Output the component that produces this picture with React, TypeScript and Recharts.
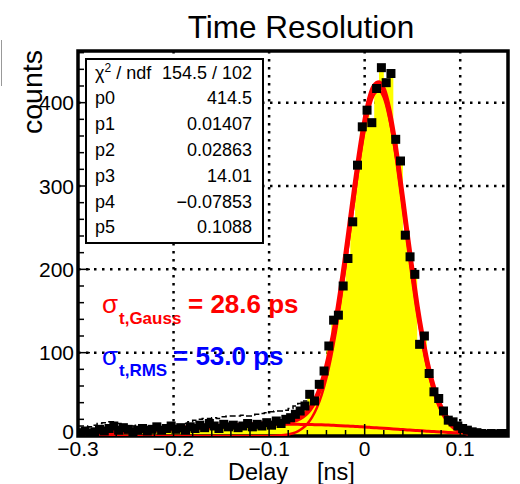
import React from "react";
import {
  Area,
  CartesianGrid,
  ComposedChart,
  Line,
  ReferenceArea,
  Scatter,
  XAxis,
  YAxis,
} from "recharts";

// histogram: 90 bins of 0.005 ns starting at -0.3 ns
const BIN_LOW = -0.3;
const BIN_W = 0.005;
const COUNTS = [
  4, 6, 3, 5, 8, 6, 9, 12, 7, 10, 8, 5, 7, 9, 6, 8, 11, 7, 9, 12, 8, 10, 7, 11,
  9, 13, 10, 15, 12, 9, 14, 11, 13, 10, 12, 15, 11, 14, 12, 16, 13, 18, 15, 20,
  22, 26, 30, 36,
  50, 42, 62, 78, 108, 139, 145, 180, 213, 257, 325, 371, 391, 376, 417, 442,
  424, 435, 356, 330, 241, 215, 194, 110, 120, 75, 53, 45, 30, 19, 17, 12, 9, 7,
  5, 4, 3, 2, 3, 2, 3, 3,
];
// black outline of the low-side tail (first 48 bins)
const TAIL_OUTLINE = [
  12, 12, 11, 13, 15, 16, 17, 17, 15, 13, 12, 12, 13, 12, 11, 12, 13, 12, 13, 14,
  13, 13, 15, 17, 19, 20, 21, 21, 22, 21, 23, 24, 24, 24, 25, 24, 24, 26, 27, 28,
  29, 30, 30, 31, 33, 36, 39, 42,
];

// fit curves
const FIT_X = [
  -0.3, -0.28, -0.26, -0.24, -0.22, -0.2, -0.18, -0.16, -0.14, -0.12, -0.1,
  -0.09, -0.08, -0.075, -0.07, -0.065, -0.06, -0.055, -0.05, -0.045, -0.04,
  -0.035, -0.03, -0.025, -0.02, -0.015, -0.01, -0.005, 0, 0.005, 0.01, 0.015,
  0.02, 0.025, 0.03, 0.035, 0.04, 0.045, 0.05, 0.055, 0.06, 0.065, 0.07, 0.075,
  0.08, 0.085, 0.09, 0.095, 0.1, 0.11, 0.12, 0.13, 0.14, 0.15,
];
const FIT_TOTAL = [
  4.5, 5.3, 6.1, 7.0, 8.0, 9.0, 10.1, 11.2, 12.4, 13.6, 14.9, 15.8, 17.2, 18.4,
  20.4, 23.6, 28.6, 36.3, 47.4, 62.8, 82.8, 108.3, 138.7, 175.4, 216.1, 259.3,
  302.5, 343.1, 377.8, 404.4, 420, 424, 415.3, 393.9, 363.5, 325.5, 282.7, 238.3,
  195.9, 155.6, 121.2, 91, 67.1, 48.2, 34.1, 23.8, 16.4, 11.5, 8.2, 4.5, 2.9, 2.1,
  1.6, 1.3,
];
const FIT_GAUSS = [
  0, 0, 0, 0, 0, 0, 0, 0, 0, 0, 0.15, 0.56, 1.9, 3.3, 5.6, 9.2, 14.6, 22.6, 33.9,
  49.4, 69.6, 95.4, 126, 163, 204, 247.5, 291, 332, 367, 394, 410, 414.3, 406,
  385, 355, 317.4, 275, 231, 189, 149, 115, 85.2, 61.6, 43.1, 29.3, 19.3, 12.3,
  7.6, 4.6, 1.5, 0.44, 0.1, 0.03, 0,
];
const FIT_BKG = [
  1.8, 2.5, 3.5, 4.7, 6.0, 7.5, 9.1, 10.6, 11.9, 13.0, 13.7, 13.9, 14.0, 14.0,
  14.0, 13.9, 13.8, 13.7, 13.5, 13.4, 13.2, 12.9, 12.7, 12.4, 12.1, 11.8, 11.5,
  11.1, 10.8, 10.4, 10.0, 9.7, 9.3, 8.9, 8.5, 8.1, 7.7, 7.3, 6.9, 6.6, 6.2, 5.8,
  5.5, 5.1, 4.8, 4.5, 4.1, 3.9, 3.6,
];

const X_MAJOR = [-0.3, -0.2, -0.1, 0, 0.1];
const X_MINOR = [
  -0.28, -0.26, -0.24, -0.22, -0.18, -0.16, -0.14, -0.12, -0.08, -0.06, -0.04,
  -0.02, 0.02, 0.04, 0.06, 0.08, 0.12, 0.14,
];
const Y_MAJOR = [0, 100, 200, 300, 400];
const Y_MINOR = [
  20, 40, 60, 80, 120, 140, 160, 180, 220, 240, 260, 280, 320, 340, 360, 380,
  420, 440, 460,
];

const STATS = [
  ["p0", "414.5"],
  ["p1", "0.01407"],
  ["p2", "0.02863"],
  ["p3", "14.01"],
  ["p4", "\u22120.07853"],
  ["p5", "0.1088"],
];

const W = 520;
const H = 484;
const LEFT = 78;
const TOP = 51;
const RIGHT = 508;
const BOTTOM = 436;
const X_DOMAIN: [number, number] = [-0.3, 0.15];
const Y_DOMAIN: [number, number] = [0, 462];
const FONT = "'Liberation Sans', Arial, Helvetica, sans-serif";

// pixel position of grid lines (same linear mapping as the axes)
const gridX = (v: number) => LEFT + ((v - X_DOMAIN[0]) / (X_DOMAIN[1] - X_DOMAIN[0])) * (RIGHT - LEFT);
const gridY = (v: number) => BOTTOM - ((v - Y_DOMAIN[0]) / (Y_DOMAIN[1] - Y_DOMAIN[0])) * (BOTTOM - TOP);

const histRows = COUNTS.map((c, i) => ({ x: BIN_LOW + i * BIN_W, y: c }));
histRows.push({ x: BIN_LOW + COUNTS.length * BIN_W, y: COUNTS[COUNTS.length - 1] });
const markerRows = COUNTS.map((c, i) => ({ x: BIN_LOW + (i + 0.5) * BIN_W, y: c }));
const outlineRows = TAIL_OUTLINE.map((c, i) => ({ x: BIN_LOW + i * BIN_W, y: c }));
outlineRows.push({
  x: BIN_LOW + TAIL_OUTLINE.length * BIN_W,
  y: TAIL_OUTLINE[TAIL_OUTLINE.length - 1],
});
const totalRows = FIT_X.map((x, i) => ({ x, y: FIT_TOTAL[i] }));
const gaussRows = FIT_X.map((x, i) => ({ x, y: FIT_GAUSS[i] }));
const bkgRows = FIT_BKG.map((y, i) => ({ x: FIT_X[i], y }));

const isIn = (list: number[], v: number) => list.some((m) => Math.abs(m - v) < 1e-9);

function fmtX(v: number) {
  if (Math.abs(v) < 1e-9) return "0";
  return v < 0 ? `\u2212${Math.abs(v)}` : String(v);
}

function XTick(props: any) {
  const { x, payload } = props;
  const major = isIn(X_MAJOR, payload.value);
  return (
    <g>
      <line x1={x} x2={x} y1={BOTTOM} y2={BOTTOM - (major ? 12 : 6)} stroke="#000" strokeWidth={1.5} />
      {major && (
        <text x={x} y={456} textAnchor="middle" fontSize={21} fontFamily={FONT} fill="#000">
          {fmtX(payload.value)}
        </text>
      )}
    </g>
  );
}

function YTick(props: any) {
  const { y, payload } = props;
  const major = isIn(Y_MAJOR, payload.value);
  return (
    <g>
      <line x1={LEFT} x2={LEFT + (major ? 12 : 6)} y1={y} y2={y} stroke="#000" strokeWidth={1.5} />
      {major && (
        <text x={74} y={y + (payload.value === 0 ? 3 : 7.5)} textAnchor="end" fontSize={21} fontFamily={FONT} fill="#000">
          {payload.value}
        </text>
      )}
    </g>
  );
}

function Square(props: any) {
  const { cx, cy } = props;
  if (cx == null || cy == null) return null;
  return <rect x={cx - 4.5} y={cy - 4.5} width={9} height={9} fill="#000" />;
}

export default function App() {
  return (
    <div style={{ position: "absolute", left: 0, top: 0, width: W, height: H, background: "#fff" }}>
      <ComposedChart
        width={W}
        height={H}
        data={histRows}
        margin={{ top: TOP, right: W - RIGHT, bottom: 0, left: 0 }}
      >
        <CartesianGrid
          stroke="#000"
          strokeWidth={2.5}
          strokeDasharray="2.5 5.5"
          verticalPoints={X_MAJOR.filter((v) => v > -0.3).map(gridX)}
          horizontalPoints={Y_MAJOR.filter((v) => v > 0).map(gridY)}
        />
        <XAxis
          dataKey="x"
          type="number"
          domain={X_DOMAIN}
          allowDataOverflow
          ticks={[...X_MAJOR, ...X_MINOR]}
          interval={0}
          height={H - BOTTOM}
          axisLine={false}
          tickLine={false}
          tickSize={0}
          tick={(p: any) => <XTick {...p} />}
        />
        <YAxis
          dataKey="y"
          type="number"
          domain={Y_DOMAIN}
          allowDataOverflow
          ticks={[...Y_MAJOR, ...Y_MINOR]}
          interval={0}
          width={LEFT}
          axisLine={false}
          tickLine={false}
          tickSize={0}
          tick={(p: any) => <YTick {...p} />}
        />
        <Area
          dataKey="y"
          type="stepAfter"
          fill="#ffff00"
          fillOpacity={1}
          stroke="none"
          baseValue={0}
          isAnimationActive={false}
        />
        <Line
          data={outlineRows}
          dataKey="y"
          type="stepAfter"
          stroke="#000"
          strokeWidth={1.5}
          strokeDasharray="6 3"
          dot={false}
          isAnimationActive={false}
        />
        <Line data={bkgRows} dataKey="y" type="monotone" stroke="#ff0000" strokeWidth={3} dot={false} isAnimationActive={false} />
        <Line data={gaussRows} dataKey="y" type="monotone" stroke="#ff0000" strokeWidth={2.5} dot={false} isAnimationActive={false} />
        <Line data={totalRows} dataKey="y" type="monotone" stroke="#ff0000" strokeWidth={5} dot={false} isAnimationActive={false} />
        <Scatter data={markerRows} dataKey="y" shape={(p: any) => <Square {...p} />} isAnimationActive={false} />
        <ReferenceArea
          x1={X_DOMAIN[0]}
          x2={X_DOMAIN[1]}
          y1={Y_DOMAIN[0]}
          y2={Y_DOMAIN[1]}
          fill="none"
          stroke="#000"
          strokeWidth={3.5}
          ifOverflow="visible"
        />
      </ComposedChart>

      <svg
        width={W}
        height={H}
        style={{ position: "absolute", left: 0, top: 0, pointerEvents: "none" }}
        fontFamily={FONT}
      >
        <line x1={1.5} x2={1.5} y1={40} y2={86} stroke="#999" strokeWidth={1} />
        <text x={301} y={38} textAnchor="middle" fontSize={31.5} fill="#000">
          Time Resolution
        </text>
        <text transform="translate(42,50) rotate(-90)" textAnchor="end" fontSize={28.5} fill="#000">
          counts
        </text>
        <text x={228} y={480} fontSize={23.5} fill="#000">Delay</text>
        <text x={317} y={480} fontSize={23.5} fill="#000">[ns]</text>

        <rect x={86} y={59} width={177} height={184} fill="#fff" stroke="#000" strokeWidth={2} />
        <text x={95} y={78.5} fontSize={18} fill="#000">
          χ<tspan dy={-7} fontSize={12}>2</tspan>
          <tspan dy={7}> / ndf</tspan>
        </text>
        <text x={252} y={78.5} fontSize={18} textAnchor="end" fill="#000">
          154.5 / 102
        </text>
        {STATS.map(([k, v], i) => (
          <g key={k}>
            <text x={95} y={104.3 + i * 25.8} fontSize={18} fill="#000">{k}</text>
            <text x={252} y={104.3 + i * 25.8} fontSize={18} textAnchor="end" fill="#000">{v}</text>
          </g>
        ))}

        <g fill="#ff0000">
          <text x={102} y={313} fontSize={26}>σ</text>
          <text x={119} y={324} fontSize={17} fontWeight="bold">t,Gauss</text>
          <text x={188} y={313} fontSize={26} fontWeight="bold">= 28.6 ps</text>
        </g>
        <g fill="#0000ff">
          <text x={102} y={365} fontSize={26}>σ</text>
          <text x={119} y={376} fontSize={17} fontWeight="bold">t,RMS</text>
          <text x={173} y={365} fontSize={26} fontWeight="bold">= 53.0 ps</text>
        </g>
      </svg>
    </div>
  );
}
